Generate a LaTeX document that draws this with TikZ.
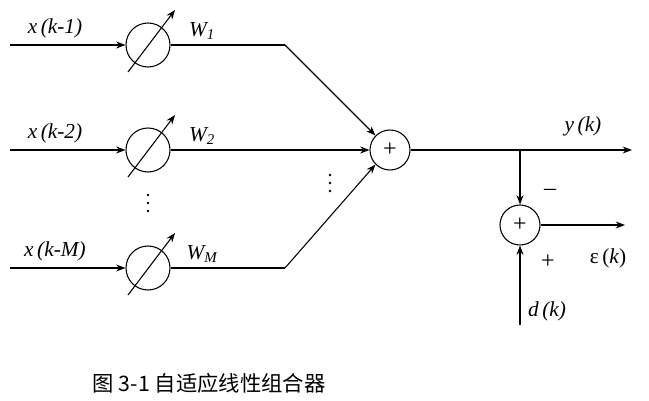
\documentclass[tikz,border=0pt]{standalone}
\usepackage{fontspec}
\setmainfont{Liberation Serif}
\newfontfamily\cjk{Noto Sans CJK SC}
\usetikzlibrary{arrows.meta}
\begin{document}
\begin{tikzpicture}[x=0.75pt,y=-0.75pt,
  wt/.style={circle,draw,thick,minimum size=44*0.75pt,inner sep=0pt},
  sm/.style={circle,draw,thick,minimum size=40*0.75pt,inner sep=0pt,font=\fontsize{18}{20}\selectfont},
  ln/.style={thick},
  ar/.style={thick,-{Stealth[length=7pt]}},
  lab/.style={font=\fontsize{16}{18}\selectfont\itshape}]
\useasboundingbox (0,0) rectangle (649,400);
\foreach \i/\y/\t/\w in {1/45/{x\,(k-1)}/{W\textsubscript{1}},2/150/{x\,(k-2)}/{W\textsubscript{2}},3/268/{x\,(k-M)}/{W\textsubscript{\itshape M}}}{
  \node[wt] (w\i) at (148,\y) {};
  \coordinate (s\i) at (10,\y);
  \node[lab,anchor=south] (xl\i) at (55,\y-2) {\t};
  \draw[ar] (s\i) -- (w\i.west);
  \coordinate (a\i) at (128,\y+27);
  \coordinate (b\i) at (175,\y-35);
  \draw[ar] (a\i) -- (b\i);
  \node[lab] (wl\i) at (202,\y-14) {\w};
  \coordinate (k\i) at (285,\y);
  \draw[ln] (w\i.east) -- (k\i);
}
\node[sm] (sum) at (390,150) {+};
\draw[ar] (k1) -- (sum.north west);
\draw[ar] (k2) -- (sum.west);
\draw[ar] (k3) -- (sum.south west);
\foreach \n/\x/\yy in {p/148/203,q/330/183}{
  \foreach \j in {-8,0,8}{ \fill (\x,\yy+\j) circle (1.4); }
}
\coordinate (br) at (520,150);
\coordinate (out) at (632,150);
\draw[ar] (sum.east) -- (out);
\node[lab] (yl) at (583,126) {y\,(k)};
\node[sm] (err) at (520,225) {+};
\draw[ar] (br) -- (err.north);
\node[font=\fontsize{18}{20}\selectfont] (minus) at (550,192) {--};
\node[font=\fontsize{18}{20}\selectfont] (plus) at (548,262) {+};
\coordinate (eo) at (625,225);
\draw[ar] (err.east) -- (eo);
\node[font=\fontsize{16}{18}\selectfont] (el) at (608,258) {ε\,(\textit{k})};
\coordinate (din) at (520,325);
\draw[ar] (din) -- (err.south);
\node[lab] (dl) at (547,311) {d\,(k)};
\node[font=\cjk\fontsize{16}{18}\selectfont,anchor=west] (cap) at (88,383) {图 3-1 自适应线性组合器};
\end{tikzpicture}
\end{document}
